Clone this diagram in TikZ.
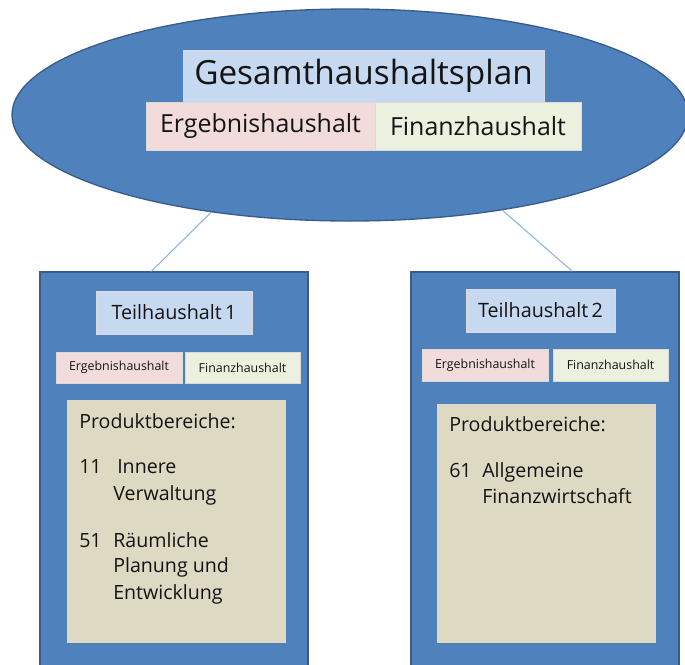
\documentclass[tikz,border=0pt]{standalone}
\usepackage{fontspec}
\setmainfont{Open Sans}
\usetikzlibrary{shapes.geometric,fit,calc}
\definecolor{blu}{HTML}{4F81BD}
\definecolor{bluedge}{HTML}{385D8A}
\definecolor{ltblue}{HTML}{C6D9F1}
\definecolor{pinkbox}{HTML}{F2DCDB}
\definecolor{greenbox}{HTML}{EBF1DE}
\definecolor{tanbox}{HTML}{DDD9C3}
\definecolor{conn}{HTML}{8EB4E3}
\definecolor{txt}{HTML}{141414}
\tikzset{
  outerbox/.style={inner sep=0pt, draw=bluedge, fill=blu, line width=1pt},
  tbox/.style={inner sep=0pt, align=center, text=txt, draw=white!85!black, line width=0.3pt},
  prodbox/.style={inner sep=0pt, fill=tanbox},
  ptext/.style={anchor=base west, inner sep=0pt, text=txt, font=\fontsize{14.7}{17}\selectfont},
  connector/.style={draw=conn, line width=0.8pt},
}
\begin{document}
\begin{tikzpicture}[x=0.75pt,y=-0.75pt]
\useasboundingbox (0,0) rectangle (685,664);
\clip (0,0) rectangle (685,664);
\fill[white] (0,0) rectangle (685,664);

% top ellipse
\node[ellipse, draw=bluedge, fill=blu, line width=1pt, inner sep=0pt,
      minimum width={676*0.75pt}, minimum height={212*0.75pt}] (ell) at (350,115) {};
\node[tbox, fill=ltblue, minimum width={361*0.75pt}, minimum height={52*0.75pt},
      font=\fontsize{25}{28}\selectfont] (gplan) at (363.5,76) {Gesamthaushaltsplan};
\node[tbox, fill=pinkbox, minimum width={229*0.75pt}, minimum height={48*0.75pt},
      font=\fontsize{18.7}{22}\selectfont] (gerg) at (260.5,126) {Ergebnishaushalt};
\node[tbox, fill=greenbox, minimum width={206*0.75pt}, minimum height={48*0.75pt},
      font=\fontsize{18.7}{22}\selectfont] (gfin) at (478,126) {Finanzhaushalt};

% left box
\node[outerbox, fit={(40,272)(308,690)}] (box1) {};
\node[tbox, fill=ltblue, minimum width={156*0.75pt}, minimum height={43*0.75pt},
      font=\fontsize{14.8}{17}\selectfont] (teil1) at (174,312.5) {Teilhaushalt\,1};
\node[tbox, fill=pinkbox, minimum width={126*0.75pt}, minimum height={31*0.75pt},
      font=\fontsize{9.3}{11}\selectfont] (erg1) at (119,367.5) {Ergebnishaushalt};
\node[tbox, fill=greenbox, minimum width={115*0.75pt}, minimum height={31*0.75pt},
      font=\fontsize{9.3}{11}\selectfont] (fin1) at (242.5,367.5) {Finanzhaushalt};
\node[prodbox, fit={(67,400)(286,643)}] (prod1) {};
\node[ptext] (p1h) at (79,428) {Produktbereiche:};
\node[ptext] (p1a) at (79,473) {11};
\node[ptext] (p1b) at (117,473) {Innere};
\node[ptext] (p1c) at (113,500) {Verwaltung};
\node[ptext] (p1d) at (79,547) {51};
\node[ptext] (p1e) at (113,547) {Räumliche};
\node[ptext] (p1f) at (113,572) {Planung und};
\node[ptext] (p1g) at (113,599) {Entwicklung};

% right box
\node[outerbox, fit={(411,272)(679,690)}] (box2) {};
\node[tbox, fill=ltblue, minimum width={149*0.75pt}, minimum height={43*0.75pt},
      font=\fontsize{14.8}{17}\selectfont] (teil2) at (540.5,310.5) {Teilhaushalt\,2};
\node[tbox, fill=pinkbox, minimum width={126*0.75pt}, minimum height={32*0.75pt},
      font=\fontsize{9.3}{11}\selectfont] (erg2) at (485,365) {Ergebnishaushalt};
\node[tbox, fill=greenbox, minimum width={115*0.75pt}, minimum height={32*0.75pt},
      font=\fontsize{9.3}{11}\selectfont] (fin2) at (610.5,365) {Finanzhaushalt};
\node[prodbox, fit={(437,404)(656,643)}] (prod2) {};
\node[ptext] (p2h) at (449,431) {Produktbereiche:};
\node[ptext] (p2a) at (449,477) {61};
\node[ptext] (p2b) at (482,477) {Allgemeine};
\node[ptext] (p2c) at (482,503) {Finanzwirtschaft};

% connectors
\draw[connector] (ell.215) -- ($(box1.north west)+(112,0)$);
\draw[connector] (ell.328) -- ($(box2.north west)+(162,0)$);
\end{tikzpicture}
\end{document}
